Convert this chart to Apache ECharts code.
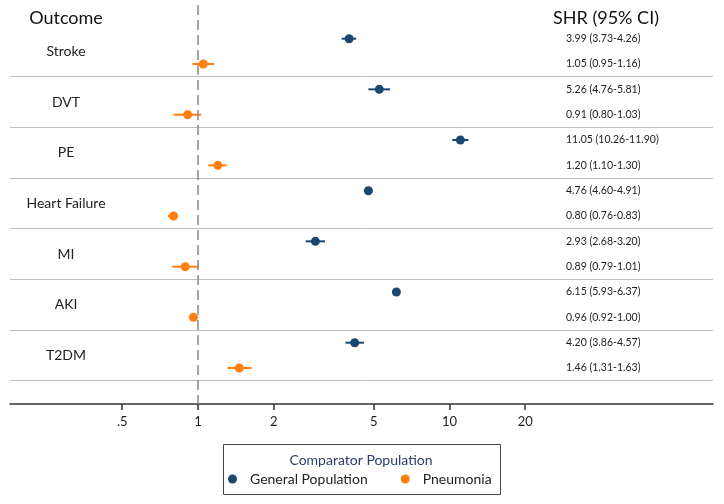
<!DOCTYPE html>
<html><head><meta charset="utf-8">
<script src="https://cdn.jsdelivr.net/npm/echarts@6/dist/echarts.min.js"></script>
<style>html,body{margin:0;padding:0;background:#fff}#c{width:724px;height:504px}</style>
</head><body><div id="c"></div>
<script>
const outcomes = ['Stroke','DVT','PE','Heart Failure','MI','AKI','T2DM'];
const genEst = [3.99,5.26,11.05,4.76,2.93,6.15,4.20];
const genLo  = [3.73,4.76,10.26,4.60,2.68,5.93,3.86];
const genHi  = [4.26,5.81,11.90,4.91,3.20,6.37,4.57];
const pneEst = [1.05,0.91,1.20,0.80,0.89,0.96,1.46];
const pneLo  = [0.95,0.80,1.10,0.76,0.79,0.92,1.31];
const pneHi  = [1.16,1.03,1.30,0.83,1.01,1.00,1.63];
const xTicks = [0.5,1,2,5,10,20];
const xTickLabels = ['.5','1','2','5','10','20'];
const seriesNames = ['General Population','Pneumonia'];

const NAVY = '#1a476f', ORANGE = '#ff7f0e';
const FONT = 'Lato';
const yMin = -1.66, yMax = 29.84;
const f2 = v => v.toFixed(2);
const shr = (e,l,h) => f2(e) + ' (' + f2(l) + '-' + f2(h) + ')';

const genData = genEst.map((v,i)=>[v, 4*i+1]);
const pneData = pneEst.map((v,i)=>[v, 4*i+3]);
const genErr = genLo.map((v,i)=>[v, genHi[i], 4*i+1]);
const pneErr = pneLo.map((v,i)=>[v, pneHi[i], 4*i+3]);
const labelYs = outcomes.map((o,i)=>4*i+2);
const shrYs = [];
outcomes.forEach((o,i)=>{shrYs.push(4*i+1, 4*i+3);});
const gridYs = outcomes.map((o,i)=>4*i+4);

function errRender(color){
  return function(params, api){
    const a = api.coord([api.value(0), api.value(2)]);
    const b = api.coord([api.value(1), api.value(2)]);
    return {type:'line', shape:{x1:a[0],y1:a[1],x2:b[0],y2:b[1]}, style:{stroke:color, lineWidth:2}};
  };
}
function xLabel(v){
  const i = xTicks.findIndex(t => Math.abs(t - v) < 1e-6 * Math.max(1,t));
  return i >= 0 ? xTickLabels[i] : String(v);
}

const chart = echarts.init(document.getElementById('c'), null, {renderer:'canvas'});
chart.setOption({
  animation:false,
  textStyle:{fontFamily:FONT},
  grid:{left:10, right:11, top:5, bottom:100, containLabel:false},
  title:[
    {text:'Outcome', left:66, top:9, textAlign:'center', padding:0, textStyle:{fontFamily:FONT, fontSize:18, fontWeight:'normal', color:'#111'}},
    {text:'SHR (95% CI)', left:553, top:9, padding:0, textStyle:{fontFamily:FONT, fontSize:18, fontWeight:'normal', color:'#111'}},
    {text:'Comparator Population', left:361, top:453, textAlign:'center', padding:0, textStyle:{fontFamily:FONT, fontSize:14, fontWeight:'normal', color:'#2a3f6e'}}
  ],
  graphic:[{type:'rect', shape:{x:223.5, y:444.5, width:277, height:50}, style:{fill:'#fff', stroke:'#444', lineWidth:1}, z:-1}],
  legend:{data:seriesNames, left:228, top:472, icon:'circle', itemWidth:9, itemHeight:9, itemGap:33, padding:0,
    textStyle:{fontFamily:FONT, fontSize:14, color:'#222', padding:[0,0,0,8]}},
  xAxis:{type:'log', logBase:10, min:0.179, max:111.6,
    axisLine:{show:true, onZero:false, lineStyle:{color:'#333', width:1.5}},
    axisTick:{show:true, customValues:xTicks, length:6, lineStyle:{color:'#333', width:1.5}},
    axisLabel:{customValues:xTicks, formatter:xLabel, fontFamily:FONT, fontSize:13, color:'#222', margin:11},
    splitLine:{show:false}, minorTick:{show:false}},
  yAxis:[
    {type:'value', inverse:true, min:yMin, max:yMax, position:'left',
     axisLine:{show:false}, axisTick:{show:false}, splitLine:{show:false},
     axisLabel:{customValues:labelYs, inside:true, align:'center', margin:56, fontFamily:FONT, fontSize:14, color:'#222',
       formatter:v=>outcomes[Math.round((v-2)/4)] || ''}},
    {type:'value', inverse:true, min:yMin, max:yMax, position:'right',
     axisLine:{show:false}, axisTick:{show:false}, splitLine:{show:false},
     axisLabel:{customValues:shrYs, inside:true, align:'left', margin:147, fontFamily:FONT, fontSize:10.5, color:'#222',
       formatter:v=>{const k=Math.round(v); const i=Math.floor(k/4); return (k%4===1)? shr(genEst[i],genLo[i],genHi[i]) : shr(pneEst[i],pneLo[i],pneHi[i]);}}}
  ],
  series:[
    {type:'custom', name:'genErr', renderItem:errRender(NAVY), data:genErr, encode:{x:[0,1], y:2}, silent:true, z:2,
     markLine:{silent:true, symbol:'none', label:{show:false}, lineStyle:{color:'#bdbdbd', width:1, type:'solid'},
       data:gridYs.map(y=>({yAxis:y}))}},
    {type:'custom', name:'pneErr', renderItem:errRender(ORANGE), data:pneErr, encode:{x:[0,1], y:2}, silent:true, z:2,
     markLine:{silent:true, symbol:'none', label:{show:false}, lineStyle:{color:'#888', width:1.5, type:[10,5]},
       data:[{xAxis:1}]}},
    {type:'scatter', name:seriesNames[0], data:genData, symbolSize:9, itemStyle:{color:NAVY, opacity:1}, z:3},
    {type:'scatter', name:seriesNames[1], data:pneData, symbolSize:9, itemStyle:{color:ORANGE, opacity:1}, z:3}
  ]
});
</script></body></html>
